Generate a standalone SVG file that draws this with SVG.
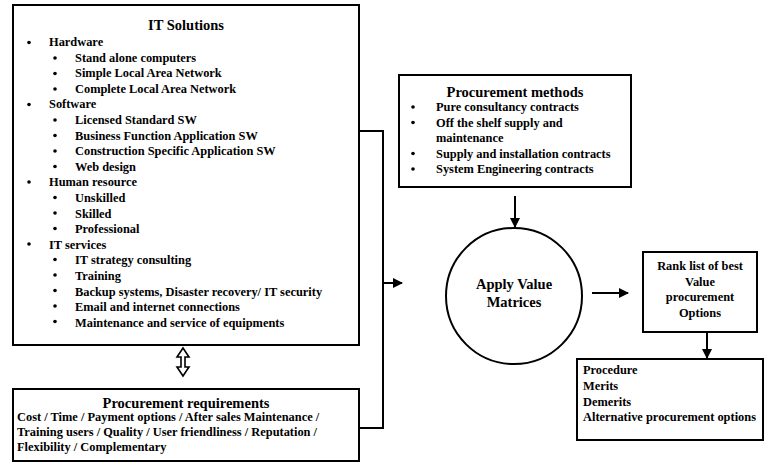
<svg xmlns="http://www.w3.org/2000/svg" width="767" height="466" viewBox="0 0 767 466">
<style>
text{font-family:"Liberation Serif","Times New Roman",serif;font-weight:bold;fill:#000;font-size:12.4px}
.t{font-size:14.5px}
.c{text-anchor:middle}
.box{fill:#fff;stroke:#000;stroke-width:2}
.ln{fill:none;stroke:#000;stroke-width:2}
.b{fill:#000}
</style>
<defs>
<marker id="ah" viewBox="0 0 10 10" refX="9" refY="5" markerWidth="10" markerHeight="10" markerUnits="userSpaceOnUse" orient="auto">
<path d="M0,0 L10,5 L0,10 Z" fill="#000"/>
</marker>
</defs>
<rect width="767" height="466" fill="#fff"/>

<g id="it-solutions">
<rect class="box" x="13" y="5" width="346" height="340"/>
<text class="t c" x="186" y="30">IT Solutions</text>
<g class="b">
<circle cx="29" cy="42.5" r="1.8"/>
<circle cx="55" cy="58" r="1.8"/>
<circle cx="55" cy="73.5" r="1.8"/>
<circle cx="55" cy="89" r="1.8"/>
<circle cx="29" cy="104.5" r="1.8"/>
<circle cx="55" cy="120" r="1.8"/>
<circle cx="55" cy="135.5" r="1.8"/>
<circle cx="55" cy="151" r="1.8"/>
<circle cx="55" cy="166.5" r="1.8"/>
<circle cx="29" cy="182" r="1.8"/>
<circle cx="55" cy="197.5" r="1.8"/>
<circle cx="55" cy="213" r="1.8"/>
<circle cx="55" cy="228.5" r="1.8"/>
<circle cx="29" cy="244" r="1.8"/>
<circle cx="55" cy="259.5" r="1.8"/>
<circle cx="55" cy="275" r="1.8"/>
<circle cx="55" cy="290.5" r="1.8"/>
<circle cx="55" cy="306" r="1.8"/>
<circle cx="55" cy="321.5" r="1.8"/>
</g>
<text x="49" y="46">Hardware</text>
<text x="75" y="61.6">Stand alone computers</text>
<text x="75" y="77.2">Simple Local Area Network</text>
<text x="75" y="92.8">Complete Local Area Network</text>
<text x="49" y="108.4">Software</text>
<text x="75" y="124">Licensed Standard SW</text>
<text x="75" y="139.6">Business Function Application SW</text>
<text x="75" y="155.2">Construction Specific Application SW</text>
<text x="75" y="170.8">Web design</text>
<text x="49" y="186.4">Human resource</text>
<text x="75" y="202">Unskilled</text>
<text x="75" y="217.6">Skilled</text>
<text x="75" y="233.2">Professional</text>
<text x="49" y="248.8">IT services</text>
<text x="75" y="264.4">IT strategy consulting</text>
<text x="75" y="280">Training</text>
<text x="75" y="295.6">Backup systems, Disaster recovery/ IT security</text>
<text x="75" y="311.2">Email and internet connections</text>
<text x="75" y="326.8">Maintenance and service of equipments</text>
</g>

<g id="procurement-requirements">
<rect class="box" x="13" y="389" width="346" height="72"/>
<text class="t c" x="186" y="408">Procurement requirements</text>
<text x="17" y="421">Cost / Time / Payment options / After sales Maintenance /</text>
<text x="17" y="436">Training users / Quality / User friendliness / Reputation /</text>
<text x="17" y="451">Flexibility / Complementary</text>
</g>

<g id="procurement-methods">
<rect class="box" x="399" y="75" width="232" height="112"/>
<text class="t c" x="515" y="97">Procurement methods</text>
<g class="b">
<circle cx="413" cy="107" r="1.8"/>
<circle cx="413" cy="122.5" r="1.8"/>
<circle cx="413" cy="153.5" r="1.8"/>
<circle cx="413" cy="169" r="1.8"/>
</g>
<text x="436" y="111">Pure consultancy contracts</text>
<text x="436" y="126.5">Off the shelf supply and</text>
<text x="436" y="142">maintenance</text>
<text x="436" y="157.5">Supply and installation contracts</text>
<text x="436" y="173">System Engineering contracts</text>
</g>

<g id="apply-value-matrices">
<circle class="ln" cx="514" cy="296" r="68" fill="#fff"/>
<text class="t c" x="514" y="289">Apply Value</text>
<text class="t c" x="514" y="307">Matrices</text>
</g>

<g id="rank-list">
<rect class="box" x="643" y="252" width="114" height="80"/>
<text class="c" x="700" y="270">Rank list of best</text>
<text class="c" x="700" y="286">Value</text>
<text class="c" x="700" y="301">procurement</text>
<text class="c" x="700" y="317">Options</text>
</g>

<g id="outcomes">
<rect class="box" x="577" y="359" width="186" height="81"/>
<text x="583" y="374">Procedure</text>
<text x="583" y="390">Merits</text>
<text x="583" y="406">Demerits</text>
<text x="583" y="421">Alternative procurement options</text>
</g>

<g id="connectors">
<polyline class="ln" points="360,131 383,131 383,428 360,428"/>
<line class="ln" x1="383" y1="283" x2="402" y2="283" marker-end="url(#ah)"/>
<line class="ln" x1="515" y1="196" x2="515" y2="227" marker-end="url(#ah)"/>
<line class="ln" x1="592" y1="293" x2="628" y2="293" marker-end="url(#ah)"/>
<line class="ln" x1="707" y1="333" x2="707" y2="358" marker-end="url(#ah)"/>
<path d="M183,348 L177,357 L181,357 L181,367 L177,367 L183,376 L189,367 L185,367 L185,357 L189,357 Z" fill="#fff" stroke="#000" stroke-width="1.6" stroke-linejoin="miter"/>
</g>
</svg>
